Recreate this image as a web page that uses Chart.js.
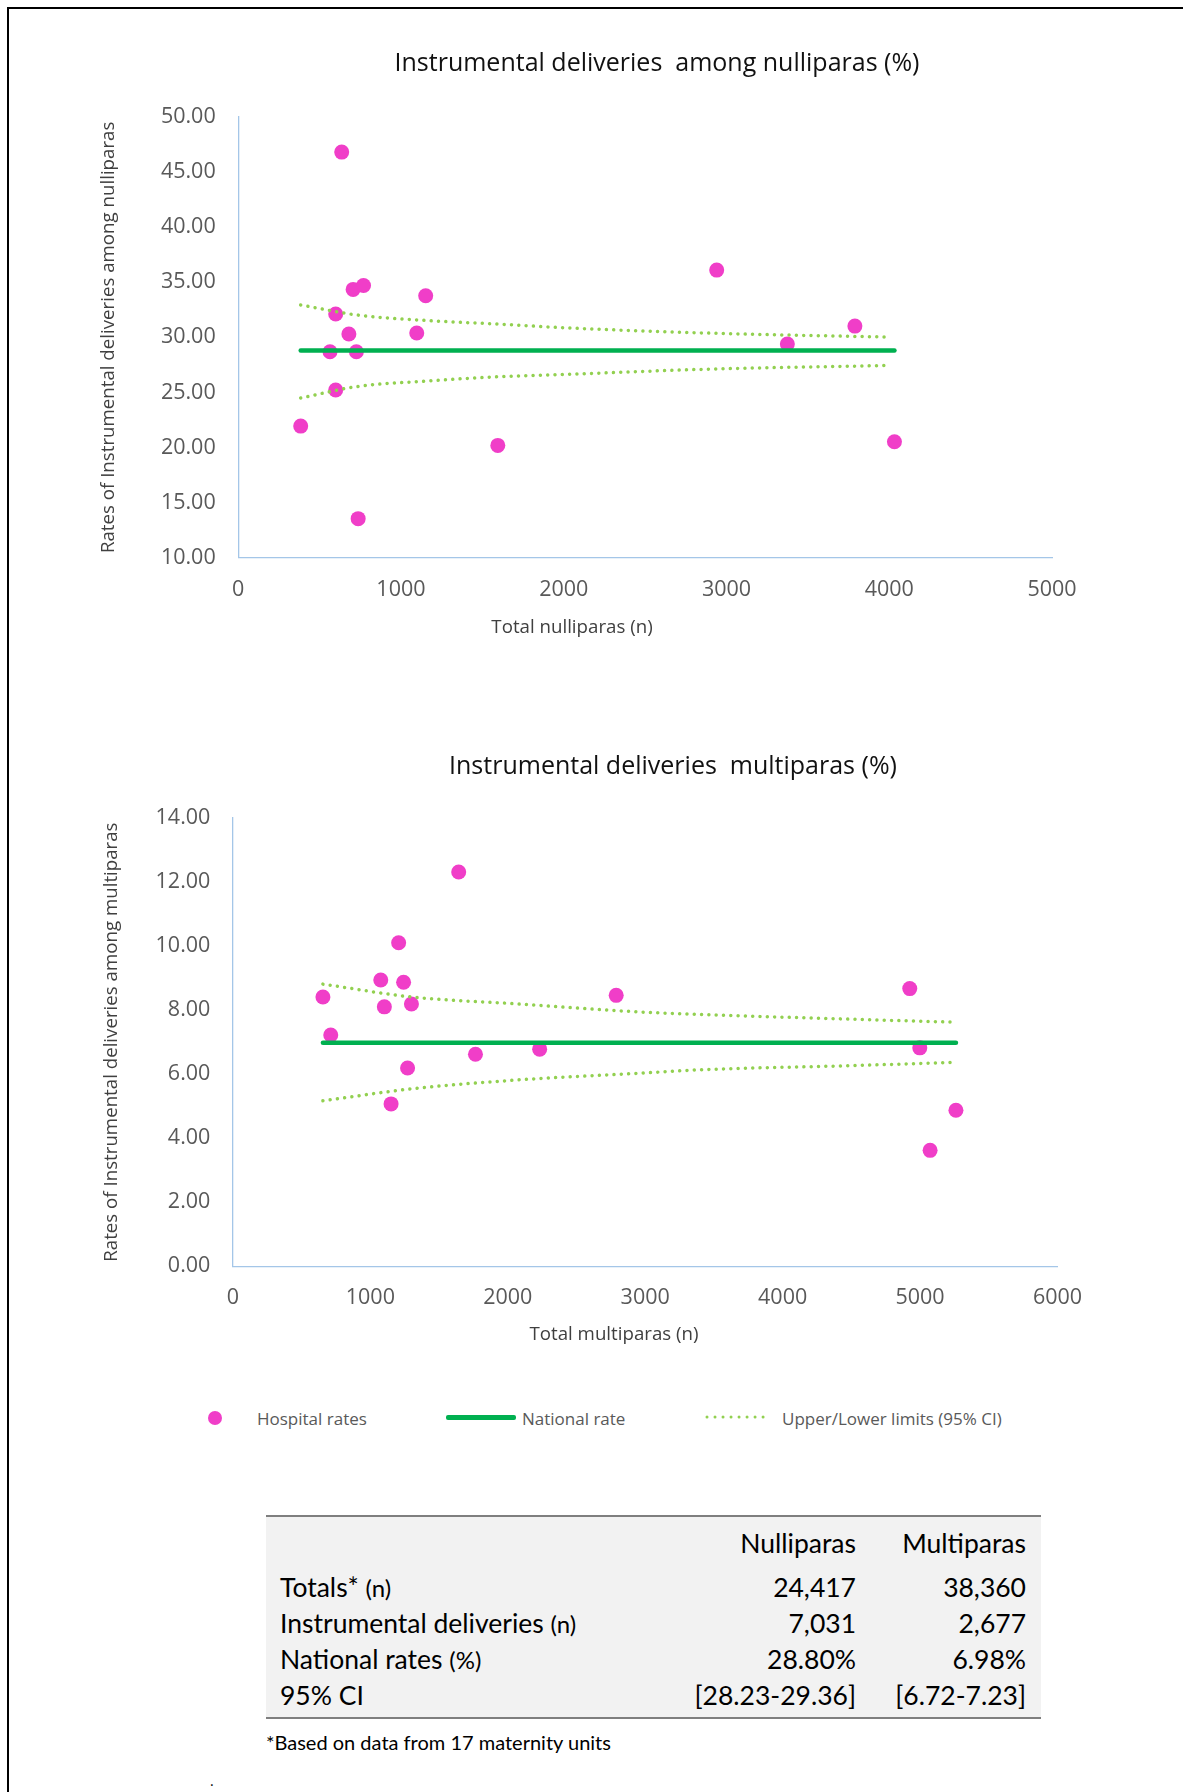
<!DOCTYPE html>
<html>
<head>
<meta charset="utf-8">
<title>Instrumental deliveries</title>
<script src="https://cdn.jsdelivr.net/npm/chart.js@4.4.1/dist/chart.umd.min.js"></script>
<style>
  html, body { margin: 0; padding: 0; background: #fff; }
  body { position: relative; width: 1183px; height: 1792px; overflow: hidden; font-family: "Open Sans", sans-serif; }
  .frame { position: absolute; left: 7px; top: 7px; width: 1300px; height: 1900px; border-left: 2.5px solid #000; border-top: 2.5px solid #000; }
  .chart-box { position: absolute; left: 0; width: 1183px; height: 620px; }
  .txt { position: absolute; white-space: pre; line-height: 1; transform: translate(-50%, -50%); }
  .ltxt { position: absolute; white-space: pre; line-height: 1; transform: translateY(-50%); }
  .chart-title { font-size: 25px; color: #111; }
  .axis-title { font-size: 18.7px; color: #404040; }
  .legend-text { font-size: 17px; color: #595959; }
  .dot { position: absolute; left: 208px; top: 1411px; width: 14px; height: 14px; border-radius: 50%; background: #F03EC8; }
  .nat { position: absolute; left: 446px; top: 1415px; width: 70px; height: 4.5px; border-radius: 2px; background: #00B050; }
  .lim { position: absolute; left: 704px; top: 1412px; }
  .table-box { position: absolute; left: 266px; top: 1515px; width: 775px; background: #f2f2f2;
               border-top: 2px solid #7f7f7f; border-bottom: 2px solid #7f7f7f; padding-bottom: 4px;
               font-family: Lato, sans-serif; font-size: 26.5px; color: #000; }
  table { border-collapse: collapse; table-layout: fixed; width: 775px; }
  td { padding: 0; line-height: 36px; height: 36px; white-space: nowrap; }
  tr.head td { height: 52px; line-height: 52px; }
  td.lab { padding-left: 14px; }
  td.num { text-align: right; }
  td.last { padding-right: 15px; }
  .small { font-size: 24px; line-height: 0; }
  .note { position: absolute; left: 266px; top: 1742px; transform: translateY(-50%); font-family: Lato, sans-serif; font-size: 20px; line-height: 1; }
</style>
</head>
<body>
<div class="frame"></div>

<div class="chart-box" style="top:0"><canvas id="nulliChart"></canvas></div>
<div class="chart-box" style="top:700px"><canvas id="multiChart"></canvas></div>

<div class="txt chart-title" style="left:657px; top:61px">Instrumental deliveries  among nulliparas (%)</div>
<div class="txt axis-title" style="left:572px; top:626px">Total nulliparas (n)</div>
<div class="txt chart-title" style="left:673px; top:764px">Instrumental deliveries  multiparas (%)</div>
<div class="txt axis-title" style="left:614px; top:1333px">Total multiparas (n)</div>

<div class="dot"></div>
<div class="ltxt legend-text" style="left:257px; top:1418px">Hospital rates</div>
<div class="nat"></div>
<div class="ltxt legend-text" style="left:522px; top:1418px">National rate</div>
<svg class="lim" width="70" height="10"><line x1="3" y1="5" x2="67" y2="5" stroke="#92D050" stroke-width="3" stroke-linecap="round" stroke-dasharray="0.01 8"/></svg>
<div class="ltxt legend-text" style="left:782px; top:1418px">Upper/Lower limits (95% CI)</div>

<div class="table-box">
  <table>
    <colgroup><col style="width:420px"><col style="width:170px"><col style="width:185px"></colgroup>
    <tr class="head"><td></td><td class="num">Nulliparas</td><td class="num last">Multiparas</td></tr>
    <tr><td class="lab">Totals* <span class="small">(n)</span></td><td class="num">24,417</td><td class="num last">38,360</td></tr>
    <tr><td class="lab">Instrumental deliveries <span class="small">(n)</span></td><td class="num">7,031</td><td class="num last">2,677</td></tr>
    <tr><td class="lab">National rates <span class="small">(%)</span></td><td class="num">28.80%</td><td class="num last">6.98%</td></tr>
    <tr><td class="lab">95% CI</td><td class="num">[28.23-29.36]</td><td class="num last">[6.72-7.23]</td></tr>
  </table>
</div>
<div class="note">*Based on data from 17 maternity units</div>
<div class="ltxt" style="left:210px; top:1781px; font-size:14px">.</div>

<script>
  // ---- nulliparas ----
  const nulliN    = [384, 564, 599, 599, 636, 680, 706, 726, 737, 770, 1097, 1152, 1595, 2940, 3374, 3789, 4032];
  const nulliRate = [21.95, 28.69, 32.12, 25.22, 46.8, 30.31, 34.35, 28.69, 13.56, 34.7, 30.4, 33.77, 20.2, 36.1, 29.4, 31.02, 20.53];
  const nulliNational = 28.80;
  const nulliRange = [384, 4032];
  const nulliLimitN = [384, 735, 1152, 1590, 1977, 2854, 3995];
  const nulliUpper  = [32.93, 32.02, 31.53, 31.21, 30.89, 30.4, 30.02];
  const nulliLower  = [24.5, 25.55, 26.03, 26.42, 26.62, 27.1, 27.45];
  const nulliXTicks = [0, 1000, 2000, 3000, 4000, 5000];
  const nulliYTicks = [10, 15, 20, 25, 30, 35, 40, 45, 50];

  // ---- multiparas ----
  const multiN    = [655, 712, 1076, 1102, 1151, 1206, 1242, 1271, 1299, 1643, 1765, 2232, 2789, 4925, 4998, 5073, 5261];
  const multiRate = [8.41, 7.22, 8.94, 8.10, 5.07, 10.10, 8.87, 6.19, 8.19, 12.31, 6.62, 6.78, 8.46, 8.67, 6.82, 3.62, 4.87];
  const multiNational = 6.98;
  const multiRange = [655, 5261];
  const multiLimitN = [655, 1299, 2079, 2963, 3421, 4460, 5261];
  const multiUpper  = [8.81, 8.41, 8.19, 7.94, 7.86, 7.72, 7.62];
  const multiLower  = [5.17, 5.54, 5.82, 6.03, 6.14, 6.26, 6.37];
  const multiXTicks = [0, 1000, 2000, 3000, 4000, 5000, 6000];
  const multiYTicks = [0, 2, 4, 6, 8, 10, 12, 14];

  const PINK = "#F03EC8", GREEN = "#00B050", LIGHT = "#92D050";
  const TICK = "#595959", AXIS = "#A4C6E8";

  Chart.defaults.font.family = "'Open Sans', sans-serif";

  function pts(xs, ys) { return xs.map((x, i) => ({ x: x, y: ys[i] })); }
  function flat(xs, v) { return xs.map(x => ({ x: x, y: v })); }

  function limitSet(label, data) {
    return {
      label: label, data: data, showLine: true,
      borderColor: LIGHT, borderWidth: 3.5, borderDash: [0.01, 7.3], borderCapStyle: "round",
      cubicInterpolationMode: "monotone", pointRadius: 0, order: 1
    };
  }

  function makeChart(id, s) {
    return new Chart(document.getElementById(id), {
      type: "scatter",
      data: {
        datasets: [
          { label: "Hospital rates", data: pts(s.n, s.rate), pointBackgroundColor: PINK, pointBorderWidth: 0,
            pointRadius: 7.5, order: 3 },
          { label: "National rate", data: flat(s.range, s.national), showLine: true, borderColor: GREEN,
            borderWidth: 4.5, borderCapStyle: "round", pointRadius: 0, order: 2 },
          limitSet("Upper limit", pts(s.limitN, s.upper)),
          limitSet("Lower limit", pts(s.limitN, s.lower))
        ]
      },
      options: {
        responsive: true,
        maintainAspectRatio: false,
        animation: false,
        layout: { padding: s.pad },
        plugins: { legend: { display: false }, tooltip: { enabled: false } },
        scales: {
          x: {
            type: "linear",
            min: s.xTicks[0], max: s.xTicks[s.xTicks.length - 1],
            afterBuildTicks: a => { a.ticks = s.xTicks.map(v => ({ value: v })); },
            afterFit: a => { a.height = 50; },
            ticks: { callback: v => String(v), color: TICK, font: { size: 21.5 }, padding: 19, maxRotation: 0, autoSkip: false },
            grid: { display: false, drawTicks: false },
            border: { color: AXIS, width: 1.3 }
          },
          y: {
            min: s.yTicks[0], max: s.yTicks[s.yTicks.length - 1],
            afterBuildTicks: a => { a.ticks = s.yTicks.map(v => ({ value: v })); },
            afterFit: a => { a.width = s.yWidth; },
            ticks: { callback: v => v.toFixed(2), color: TICK, font: { size: 21.5 }, padding: 22.5, autoSkip: false },
            grid: { display: false, drawTicks: false },
            border: { color: AXIS, width: 1.3 },
            title: { display: true, text: s.yTitle, color: "#404040", font: { size: 18.7 }, padding: 0 }
          }
        }
      }
    });
  }

  makeChart("nulliChart", {
    n: nulliN, rate: nulliRate, national: nulliNational, range: nulliRange,
    limitN: nulliLimitN, upper: nulliUpper, lower: nulliLower,
    xTicks: nulliXTicks, yTicks: nulliYTicks,
    yTitle: "Rates of Instrumental deliveries among nulliparas",
    pad: { left: 97, right: 131, top: 116.8, bottom: 12.1 }, yWidth: 141.2
  });

  makeChart("multiChart", {
    n: multiN, rate: multiRate, national: multiNational, range: multiRange,
    limitN: multiLimitN, upper: multiUpper, lower: multiLower,
    xTicks: multiXTicks, yTicks: multiYTicks,
    yTitle: "Rates of Instrumental deliveries among multiparas",
    pad: { left: 100.8, right: 125.5, top: 117.9, bottom: 3.7 }, yWidth: 132.1
  });
</script>
</body>
</html>
